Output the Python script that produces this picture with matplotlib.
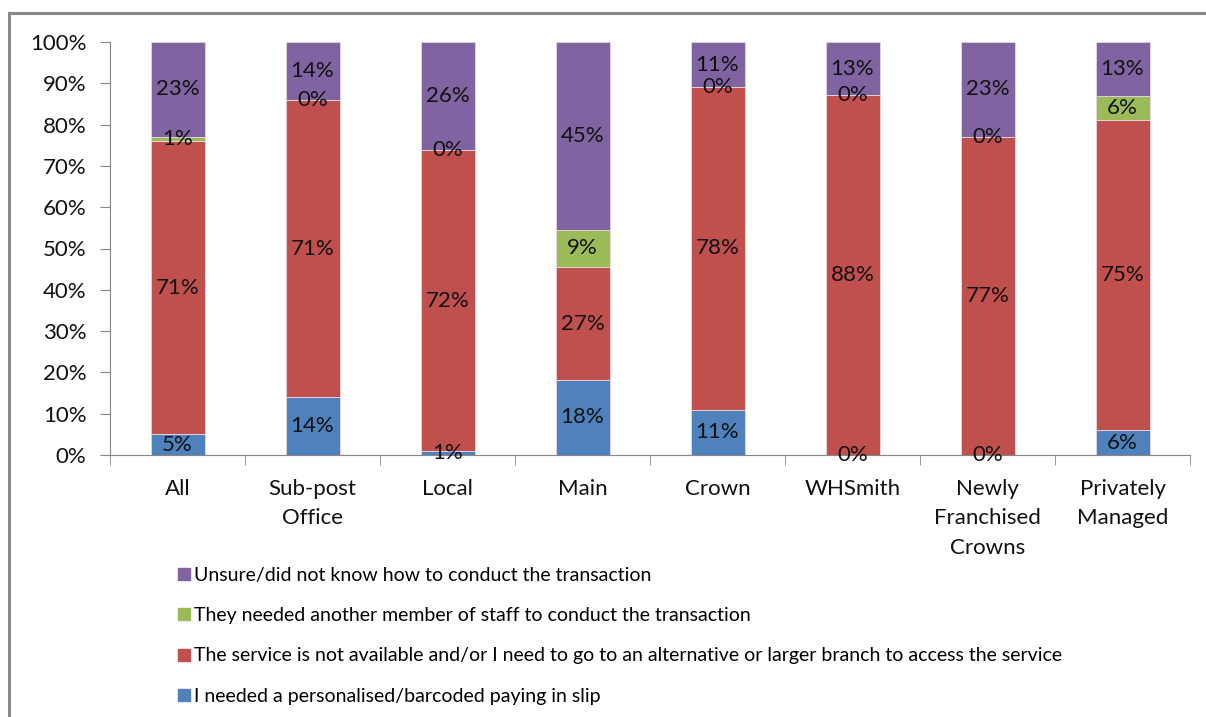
import numpy as np
import matplotlib.pyplot as plt
from matplotlib.lines import Line2D

plt.rcParams['font.family'] = ['Lato', 'DejaVu Sans']

# Categories and the percentage shown in each stacked segment
categories = ["All", "Sub-post\nOffice", "Local", "Main", "Crown", "WHSmith",
              "Newly\nFranchised\nCrowns", "Privately\nManaged"]
slip = [5, 14, 1, 18, 11, 0, 0, 6]
not_available = [71, 71, 72, 27, 78, 88, 77, 75]
other_staff = [1, 0, 0, 9, 0, 0, 0, 6]
unsure = [23, 14, 26, 45, 11, 13, 23, 13]

series_names = [
    "I needed a personalised/barcoded paying in slip",
    "The service is not available and/or I need to go to an alternative or larger branch to access the service",
    "They needed another member of staff to conduct the transaction",
    "Unsure/did not know how to conduct the transaction",
]
colors = ["#4F81BD", "#C0504D", "#9BBB59", "#8064A2"]

data = np.array([slip, not_available, other_staff, unsure], dtype=float)
# 100% stacked: scale each column to sum to 100
shares = data / data.sum(axis=0) * 100

fig = plt.figure(figsize=(12.06, 7.17), dpi=100)
ax = fig.add_axes([110 / 1206, 1 - 455 / 717, 1080 / 1206, 413 / 717])

x = np.arange(len(categories))
bottom = np.zeros(len(categories))
for i in range(4):
    ax.bar(x, shares[i], bottom=bottom, width=0.4, color=colors[i],
           edgecolor="#e8d8e0", linewidth=0.6)
    for j in range(len(categories)):
        ax.text(x[j], bottom[j] + shares[i][j] / 2, f"{int(data[i][j])}%",
                ha="center", va="center", fontsize=16, color="#111111")
    bottom += shares[i]

ax.set_xlim(-0.5, len(categories) - 0.5)
ax.set_ylim(0, 100)
ax.set_yticks(np.arange(0, 101, 10))
ax.set_yticklabels([f"{v}%" for v in range(0, 101, 10)], fontsize=16, color="#111111")
ax.set_xticks(x)
ax.set_xticklabels(categories, fontsize=16, linespacing=1.6, color="#111111")
ax.set_xticks(np.arange(-0.5, len(categories)), minor=True)
ax.tick_params(axis="x", which="major", length=0, pad=17)
ax.tick_params(axis="x", which="minor", length=7, color="#868686")
ax.tick_params(axis="y", length=7, color="#868686", pad=10)
for s in ["top", "right"]:
    ax.spines[s].set_visible(False)
ax.spines["left"].set_color("#868686")
ax.spines["bottom"].set_color("#868686")

# legend, top entry first
handles = [Line2D([], [], marker="s", linestyle="", markersize=9,
                  markerfacecolor=colors[i], markeredgecolor=colors[i]) for i in range(3, -1, -1)]
labels = [series_names[i] for i in range(3, -1, -1)]
fig.legend(handles, labels, loc="upper left", bbox_to_anchor=(166 / 1206, 1 - 559 / 717),
           frameon=False, fontsize=14, handletextpad=0.05, handlelength=1.0,
           labelspacing=1.2, borderaxespad=0)

# frame lines around the figure
fig.add_artist(Line2D([9 / 1206, 9 / 1206], [0, 1 - 13 / 717], color="#888888", lw=2.2, transform=fig.transFigure))
fig.add_artist(Line2D([9 / 1206, 1], [1 - 13 / 717, 1 - 13 / 717], color="#888888", lw=2.2, transform=fig.transFigure))

fig.savefig("out.png", dpi=100)
